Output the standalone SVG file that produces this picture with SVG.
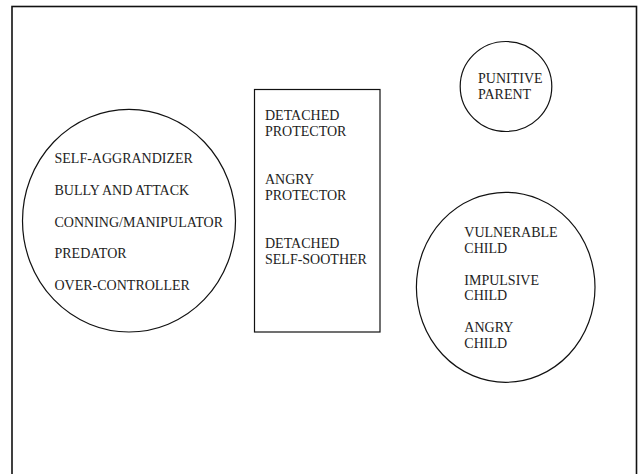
<svg xmlns="http://www.w3.org/2000/svg" width="640" height="474" viewBox="0 0 640 474">
<style>
.shape{fill:none;stroke:#111;stroke-width:1.2}
.frame{fill:none;stroke:#111;stroke-width:1.6}
text{font-family:"Liberation Serif","Times New Roman",serif;font-size:14px;fill:#222}
</style>
<rect width="640" height="474" fill="#fff"/>
<rect class="frame" x="12" y="6.5" width="624.5" height="480"/>
<g id="connectors"/>
<g id="left-modes">
<ellipse class="shape" cx="129" cy="220.7" rx="106.5" ry="111.3"/>
<text x="54.5" y="163">SELF-AGGRANDIZER</text>
<text x="54.5" y="195">BULLY AND ATTACK</text>
<text x="54.5" y="226.5">CONNING/MANIPULATOR</text>
<text x="54.5" y="258">PREDATOR</text>
<text x="54.5" y="290">OVER-CONTROLLER</text>
</g>
<g id="coping-modes">
<rect class="shape" x="254.5" y="89.5" width="125.5" height="242.5"/>
<text x="265" y="120">DETACHED</text>
<text x="265" y="136">PROTECTOR</text>
<text x="265" y="184">ANGRY</text>
<text x="265" y="200">PROTECTOR</text>
<text x="265" y="248">DETACHED</text>
<text x="265" y="264">SELF-SOOTHER</text>
</g>
<g id="punitive-parent">
<ellipse class="shape" cx="506" cy="86.5" rx="45.8" ry="45"/>
<text x="478" y="82.5">PUNITIVE</text>
<text x="478" y="98.5">PARENT</text>
</g>
<g id="child-modes">
<ellipse class="shape" cx="505.7" cy="287.3" rx="89.3" ry="95"/>
<text x="464.3" y="237">VULNERABLE</text>
<text x="464.3" y="252.5">CHILD</text>
<text x="464.3" y="284.5">IMPULSIVE</text>
<text x="464.3" y="300">CHILD</text>
<text x="464.3" y="332">ANGRY</text>
<text x="464.3" y="348">CHILD</text>
</g>
</svg>
